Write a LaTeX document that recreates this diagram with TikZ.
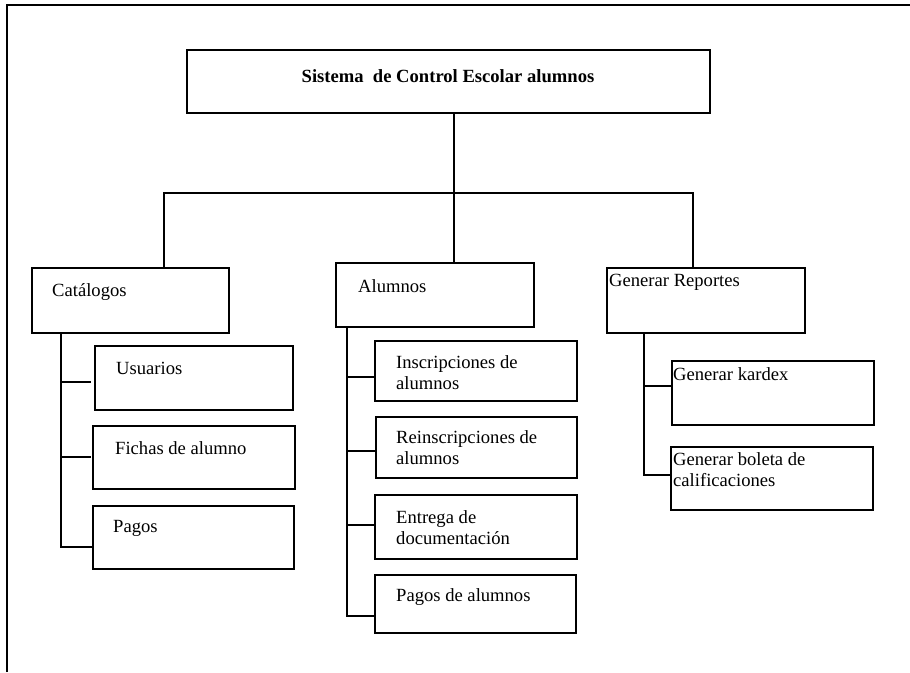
\documentclass[tikz,border=0pt]{standalone}
\usepackage{fontspec}
\setmainfont{Liberation Serif}
\begin{document}
\begin{tikzpicture}[x=1pt,y=-1pt,
  box/.style={draw, line width=1.6pt, anchor=north west, inner sep=0pt, outer sep=0pt},
  txt/.style={anchor=west, inner sep=0pt, align=left,
    font=\fontsize{18.6}{21}\selectfont},
  link/.style={line width=1.5pt},
  frame/.style={line width=2.4pt}]
\useasboundingbox (0,0) rectangle (910,672);

% page frame (open at right and bottom)
\coordinate (fb) at (7,672);
\coordinate (fc) at (7,5);
\coordinate (fr) at (910,5);
\draw[frame] (fb) -- (fc) -- (fr);

% boxes: corner, width, height
\node[box, minimum width=523, minimum height=63] (top) at (187,50) {};
\node[box, minimum width=197, minimum height=65] (cat) at (32,268) {};
\node[box, minimum width=198, minimum height=64] (usu) at (95,346) {};
\node[box, minimum width=202, minimum height=63] (fic) at (93,426) {};
\node[box, minimum width=201, minimum height=63] (pag) at (93,506) {};
\node[box, minimum width=198, minimum height=64] (alu) at (336,263) {};
\node[box, minimum width=202, minimum height=60] (ins) at (375,341) {};
\node[box, minimum width=201, minimum height=61] (rei) at (376,417) {};
\node[box, minimum width=202, minimum height=64] (ent) at (375,495) {};
\node[box, minimum width=201, minimum height=58] (pda) at (375,575) {};
\node[box, minimum width=198, minimum height=65] (gen) at (607,268) {};
\node[box, minimum width=202, minimum height=64] (kar) at (672,361) {};
\node[box, minimum width=202, minimum height=63] (bol) at (671,447) {};

% labels
\node[inner sep=0pt, font=\fontsize{18.6}{21}\selectfont\bfseries] (ttop) at (448,76)
  {Sistema\ \ de Control Escolar alumnos};
\node[txt] (tcat) at (52,292) {Catálogos};
\node[txt] (tusu) at (116,368) {Usuarios};
\node[txt] (tfic) at (115,448) {Fichas de alumno};
\node[txt] (tpag) at (113,528) {Pagos};
\node[txt] (talu) at (358,286) {Alumnos};
\node[txt] (tins) at (396,373) {Inscripciones de\\alumnos};
\node[txt] (trei) at (396,448) {Reinscripciones de\\alumnos};
\node[txt] (tent) at (396,528) {Entrega de\\documentación};
\node[txt] (tpda) at (396,597) {Pagos de alumnos};
\node[txt] (tgen) at (609,282) {Generar Reportes};
\node[txt] (tkar) at (673,374) {Generar kardex};
\node[txt] (tbol) at (673,470) {Generar boleta de\\calificaciones};

% main branches
\coordinate (hub) at (454,193);
\coordinate (hl) at (164,193);
\coordinate (hr) at (693,193);
\draw[link] (hub |- top.south) -- (hub);
\draw[link] (hl |- cat.north) -- (hl) -- (hr) -- (hr |- gen.north);
\draw[link] (hub) -- (hub |- alu.north);

% Catálogos
\coordinate (c0) at (61,333);
\coordinate (c1) at (61,382);
\coordinate (c2) at (61,457);
\coordinate (c3) at (61,547);
\draw[link] (c0) -- (c3) -- (c3 -| pag.west);
\draw[link] (c1) -- ([xshift=-4pt]c1 -| usu.west);
\draw[link] (c2) -- ([xshift=-2pt]c2 -| fic.west);

% Alumnos
\coordinate (a0) at (347,327);
\coordinate (a1) at (347,377);
\coordinate (a2) at (347,451);
\coordinate (a3) at (347,525);
\coordinate (a4) at (347,616);
\draw[link] (a0) -- (a4) -- (a4 -| pda.west);
\draw[link] (a1) -- (a1 -| ins.west);
\draw[link] (a2) -- (a2 -| rei.west);
\draw[link] (a3) -- (a3 -| ent.west);

% Generar Reportes
\coordinate (g0) at (644,333);
\coordinate (g1) at (644,386);
\coordinate (g2) at (644,475);
\draw[link] (g0) -- (g2) -- (g2 -| bol.west);
\draw[link] (g1) -- (g1 -| kar.west);
\end{tikzpicture}
\end{document}
